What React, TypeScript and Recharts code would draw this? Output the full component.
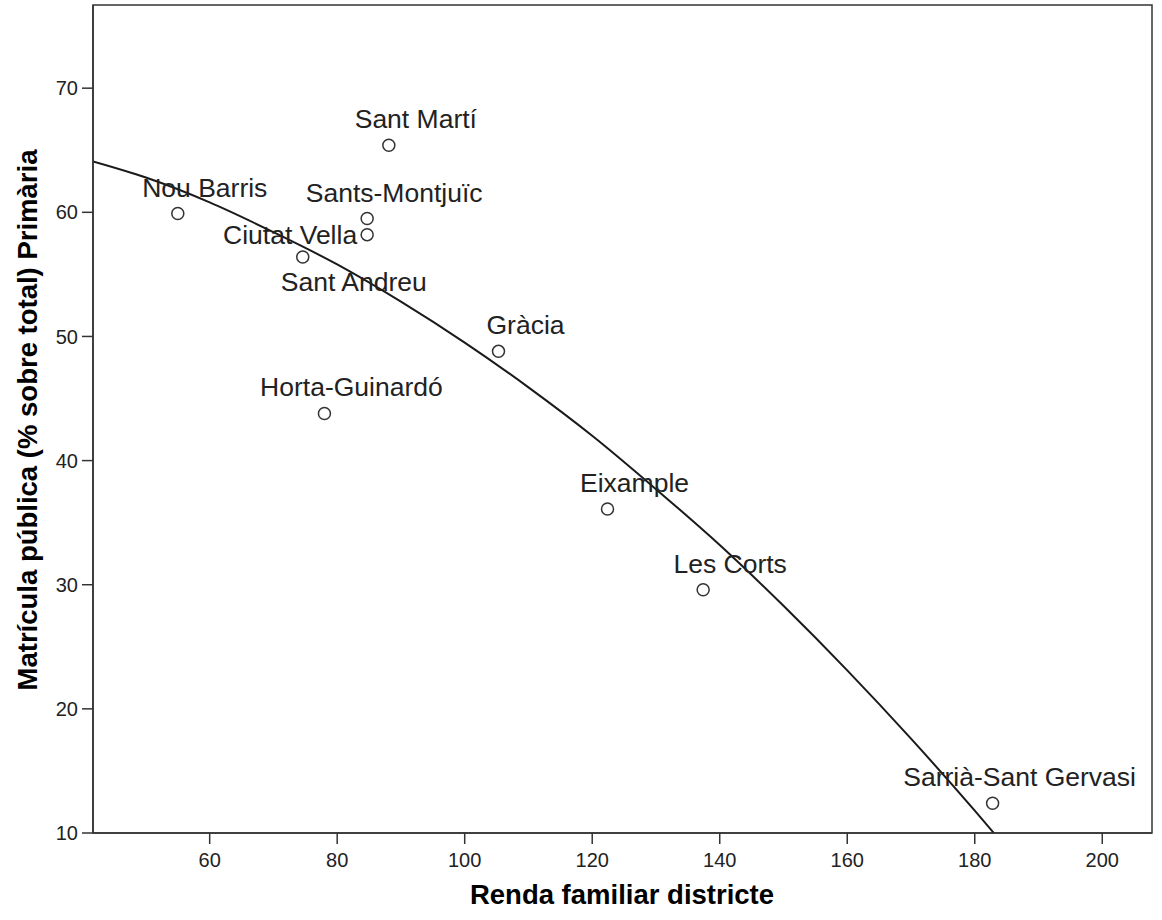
import React from "react";
import {
  ComposedChart,
  Scatter,
  Line,
  XAxis,
  YAxis,
  ReferenceArea,
  Label,
} from "recharts";

// districts of Barcelona, income index vs public enrolment in primary
const districts = [
  "Nou Barris",
  "Sant Andreu",
  "Horta-Guinardó",
  "Sants-Montjuïc",
  "Ciutat Vella",
  "Sant Martí",
  "Gràcia",
  "Eixample",
  "Les Corts",
  "Sarrià-Sant Gervasi",
];
const renda = [55.0, 74.6, 78.0, 84.7, 84.7, 88.1, 105.3, 122.4, 137.4, 182.8];
const matricula = [59.9, 56.4, 43.8, 59.5, 58.2, 65.4, 48.8, 36.1, 29.6, 12.4];

// quadratic fit line
const fitRenda = [41.7, 50, 60, 70, 80, 90, 100, 110, 120, 130, 140, 150, 160, 170, 180, 183];
const fitMatricula = [64.1, 62.8, 60.8, 58.4, 55.8, 52.8, 49.5, 45.9, 42.0, 37.7, 33.2, 28.3, 23.1, 17.6, 11.8, 10.0];

const xTicks = [60, 80, 100, 120, 140, 160, 180, 200];
const yTicks = [10, 20, 30, 40, 50, 60, 70];
const xDomain = [41.7, 207.8];
const yDomain = [10, 76.7];

const FONT = "'Liberation Sans', Arial, Helvetica, sans-serif";
const INK = "#222";

const points = districts.map((name, i) => ({ name, x: renda[i], y: matricula[i] }));
const fit = fitRenda.map((x, i) => ({ x, y: fitMatricula[i] }));

// label placement tweaks (SPSS moved a couple to avoid overlap)
const labelPos: Record<string, { dx: number; dy: number; anchor: string }> = {
  "Ciutat Vella": { dx: -10, dy: 9, anchor: "end" },
  "Sant Andreu": { dx: 51, dy: 34, anchor: "middle" },
};

function Marker(props: any) {
  const { cx, cy, payload } = props;
  if (cx == null || cy == null) return null;
  const p = labelPos[payload.name] ?? { dx: 27, dy: -17, anchor: "middle" };
  return (
    <g>
      <circle cx={cx} cy={cy} r={6} fill="none" stroke="#333" strokeWidth={1.5} />
      <text
        x={cx + p.dx}
        y={cy + p.dy}
        textAnchor={p.anchor as any}
        fontFamily={FONT}
        fontSize={26.5}
        fill={INK}
      >
        {payload.name}
      </text>
    </g>
  );
}

export default function App() {
  return (
    <div style={{ position: "absolute", left: 0, top: 0, background: "#fff" }}>
      <ComposedChart
        width={1162}
        height={920}
        margin={{ top: 5, right: 10, bottom: 0, left: 0 }}
      >
        <XAxis
          type="number"
          dataKey="x"
          domain={xDomain}
          ticks={xTicks}
          allowDataOverflow
          height={87}
          tickSize={11}
          tickMargin={9}
          axisLine={{ stroke: "#333", strokeWidth: 1.5 }}
          tickLine={{ stroke: "#333", strokeWidth: 1.5 }}
          tick={{ fontFamily: FONT, fontSize: 20, fill: INK }}
        >
          <Label
            content={() => (
              <text
                x={622}
                y={904}
                textAnchor="middle"
                fontFamily={FONT}
                fontSize={27.5}
                fontWeight="bold"
                fill="#000"
              >
                Renda familiar districte
              </text>
            )}
          />
        </XAxis>
        <YAxis
          type="number"
          dataKey="y"
          domain={yDomain}
          ticks={yTicks}
          allowDataOverflow
          width={93}
          tickSize={11}
          tickMargin={4}
          axisLine={{ stroke: "#333", strokeWidth: 1.5 }}
          tickLine={{ stroke: "#333", strokeWidth: 1.5 }}
          tick={{ fontFamily: FONT, fontSize: 20, fill: INK }}
        >
          <Label
            content={() => (
              <text
                x={0}
                y={0}
                transform="translate(37,420) rotate(-90)"
                textAnchor="middle"
                fontFamily={FONT}
                fontSize={27.5}
                fontWeight="bold"
                fill="#000"
              >
                Matrícula pública (% sobre total) Primària
              </text>
            )}
          />
        </YAxis>
        <ReferenceArea
          x1={xDomain[0]}
          x2={xDomain[1]}
          y1={yDomain[0]}
          y2={yDomain[1]}
          fill="none"
          stroke="#333"
          strokeWidth={1.5}
        />
        <Line
          data={fit}
          dataKey="y"
          type="monotone"
          stroke="#1a1a1a"
          strokeWidth={2}
          dot={false}
          activeDot={false}
          isAnimationActive={false}
        />
        <Scatter data={points} dataKey="y" shape={<Marker />} isAnimationActive={false} />
      </ComposedChart>
    </div>
  );
}
